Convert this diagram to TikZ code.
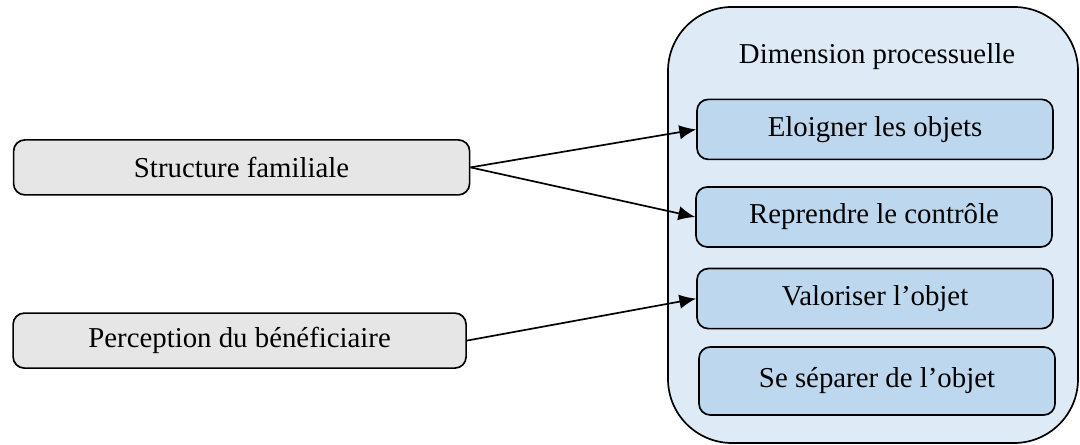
\documentclass[tikz,border=0pt]{standalone}
\usepackage{fontspec}
\setmainfont{Liberation Serif}
\usepackage{xcolor}
\usepackage{tikz}
\usetikzlibrary{arrows.meta}
\usetikzlibrary{positioning}

\definecolor{factorgray}{RGB}{230,230,230}
\definecolor{dimblue}{RGB}{222,235,247}
\definecolor{actionblue}{RGB}{189,215,238}

\begin{document}
\begin{tikzpicture}[
  every node/.style={font=\fontsize{20.5}{24}\selectfont},
  factor/.style={draw, line width=1.2pt, rounded corners=8pt, fill=factorgray,
    minimum width=11.4cm, minimum height=1.375cm},
  action/.style={draw, line width=1.2pt, rounded corners=8pt, fill=actionblue,
    minimum width=8.9cm, minimum height=1.5cm},
  link/.style={line width=1.2pt, -{Latex[length=4.2mm, width=3.6mm]}}
]
  \useasboundingbox (0, 0) rectangle (27, 11.125);

  % dimension box
  \node[draw, line width=1.2pt, rounded corners=1.6cm, fill=dimblue,
    minimum width=10.25cm, minimum height=10.9cm] (dim) at (21.825, 5.5) {};
  \node (title) at (21.925, 9.7) {Dimension processuelle};

  \node[action] (eloigner) at (21.875, 7.89) {Eloigner les objets};
  \node[action] (reprendre) at (21.85, 5.7) {Reprendre le contrôle};
  \node[action] (valoriser) at (21.875, 3.66) {Valoriser l’objet};
  \node[action, minimum height=1.7cm] (separer) at (21.925, 1.6) {Se séparer de l’objet};

  % factors
  \node[factor] (structure) at (6.04, 6.94) {Structure familiale};
  \node[factor, minimum width=11.325cm] (perception) at (5.99, 2.61) {Perception du bénéficiaire};

  \draw[link] (structure.east) -- (eloigner.west);
  \draw[link] (structure.east) -- (reprendre.west);
  \draw[link] (perception.east) -- (valoriser.west);
\end{tikzpicture}
\end{document}
